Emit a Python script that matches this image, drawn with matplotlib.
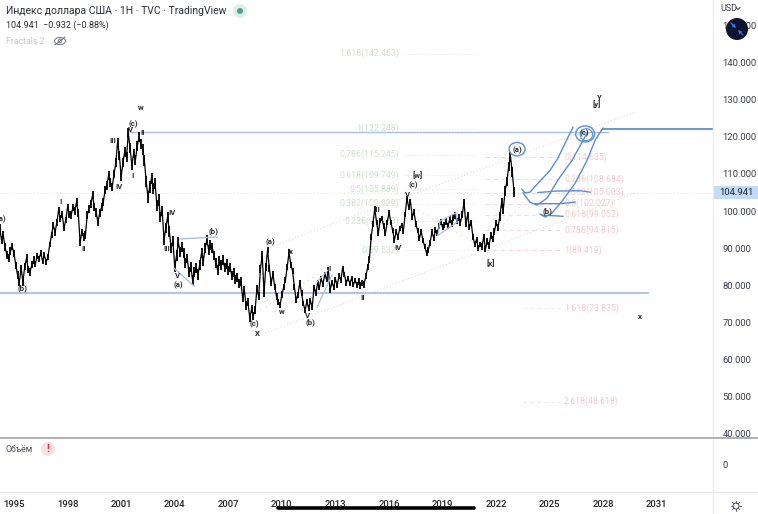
import numpy as np
import matplotlib
matplotlib.use("Agg")
import matplotlib.pyplot as plt
from matplotlib.patches import Ellipse, Circle, Rectangle

plt.rcParams['font.family'] = ['Roboto', 'DejaVu Sans']

# hourly close, one row per year, 0.1 year apart from 1994.2
price = [
    95.4, 92.2, 93.5, 90.3, 88.2, 87.3, 89.2, 90.4, 88.6, 85.4,
    82.8, 80.9, 84.6, 80.9, 85.0, 87.3, 84.2, 83.6, 85.6, 86.8,
    85.8, 88.0, 87.1, 88.7, 86.5, 88.1, 86.3, 87.6, 91.0, 93.6,
    96.2, 94.3, 97.0, 100.3, 98.0, 99.0, 95.4, 97.6, 101.1, 99.0,
    98.9, 101.0, 100.0, 102.4, 99.5, 91.6, 94.3, 93.0, 93.5, 99.0,
    100.5, 102.0, 104.3, 101.0, 99.6, 97.0, 99.5, 101.0, 102.4, 105.7,
    107.0, 109.7, 107.8, 106.5, 110.0, 113.0, 118.6, 115.0, 109.2, 113.0,
    116.0, 114.5, 121.0, 117.0, 112.4, 115.5, 113.8, 117.5, 119.9, 118.0,
    116.5, 113.7, 108.0, 103.8, 106.5, 108.9, 106.0, 107.4, 101.6, 103.0,
    98.4, 100.0, 92.2, 95.5, 98.4, 94.5, 90.0, 92.0, 84.9, 88.0,
    91.6, 89.0, 90.3, 88.7, 86.0, 87.2, 83.5, 85.0, 81.4, 83.5,
    84.6, 82.9, 85.5, 88.7, 86.5, 90.0, 92.2, 89.5, 90.8, 90.0,
    88.0, 86.0, 84.1, 86.5, 85.5, 86.8, 84.8, 85.8, 84.0, 84.8,
    82.6, 83.4, 81.6, 82.2, 80.6, 81.0, 76.8, 78.5, 74.5, 75.5,
    71.2, 73.5, 71.8, 73.3, 79.0, 77.0, 84.5, 88.1, 77.9, 85.0,
    89.5, 84.5, 80.6, 83.0, 79.5, 77.0, 75.5, 74.7, 77.5, 79.5,
    81.4, 85.0, 88.9, 85.5, 83.8, 79.5, 76.0, 77.5, 80.6, 78.0,
    75.0, 73.3, 75.6, 73.8, 75.8, 74.1, 79.5, 77.8, 80.6, 79.4,
    81.8, 80.3, 82.8, 81.6, 84.1, 78.7, 80.8, 79.5, 81.6, 80.0,
    82.5, 81.4, 84.6, 83.0, 80.6, 81.9, 80.5, 81.8, 80.2, 81.3,
    80.1, 81.0, 79.9, 80.6, 80.2, 82.5, 84.9, 87.0, 93.0, 96.5,
    100.8, 97.0, 94.1, 97.5, 98.1, 96.0, 94.1, 97.0, 99.7, 97.0,
    94.8, 92.2, 94.5, 93.0, 95.4, 96.2, 94.5, 99.0, 103.5, 101.0,
    102.5, 98.4, 99.8, 96.5, 94.8, 92.7, 94.6, 92.0, 90.5, 88.7,
    89.6, 91.5, 94.3, 92.8, 94.8, 94.0, 96.0, 97.0, 95.6, 96.3,
    97.2, 96.0, 97.8, 96.6, 98.2, 98.9, 97.3, 98.3, 97.0, 99.0,
    102.4, 96.5, 99.0, 95.7, 96.8, 93.0, 91.0, 92.3, 90.0, 91.0,
    90.4, 93.0, 89.8, 91.8, 90.8, 93.5, 92.5, 94.5, 96.8, 95.5,
    98.5, 102.2, 100.5, 105.5, 108.0, 112.0, 114.6, 110.5, 105.1,
]
years = 1994.2 + 0.1 * np.arange(len(price))

# thickness of the black price band, one reading per row of price
band = [2.0, 2.0, 1.6, 1.8, 2.0, 2.2, 2.4, 2.6, 3.0, 2.8, 2.6, 2.8, 2.6, 2.4, 2.2,
        1.8, 1.6, 1.4, 1.4, 1.4, 1.8, 1.4, 1.4, 1.4, 1.6, 1.8, 1.6, 1.8, 2.6]

last_price = 104.941

y_ticks = [40, 50, 60, 70, 80, 90, 100, 110, 120, 130, 140, 150]
x_ticks = [1995, 1998, 2001, 2004, 2007, 2010, 2013, 2016, 2019, 2022, 2025, 2028, 2031]

# fib retracements
green_names = ["1.618", "1", "0.786", "0.618", "0.5", "0.382", "0.236", "0"]
green_levels = [142.463, 122.248, 115.245, 109.749, 105.889, 102.029, 97.253, 89.532]
pink_names = ["0", "0.236", "0.382", "0.5", "0.618", "0.786", "1", "1.618", "2.618"]
pink_levels = [114.635, 108.684, 105.003, 102.027, 99.052, 94.815, 89.419, 73.835, 48.618]

# elliott wave labels
wave_text = ["w", "Y", "[y]", "(c)", "V", "II", "III", "IV", "I", "(a)", "I", "II", "(b)",
             "IV", "III", "V", "(a)", "(b)", "(a)", "x", "w", "(c)", "X", "V", "(b)", "I",
             "II", "III", "IV", "V", "(c)", "[w]", "[x]", "(a)", "(b)", "(c)", "x"]
wave_year = [2002.11, 2027.76, 2027.65, 2001.66, 2001.55, 2002.22, 2000.54, 2000.88, 2001.66,
             1994.27, 1997.63, 1998.92, 1995.50, 2003.85, 2003.57, 2004.18, 2004.18, 2006.14,
             2009.34, 2010.51, 2010.01, 2008.44, 2008.61, 2011.46, 2011.58, 2012.64, 2014.54,
             2015.33, 2016.50, 2017.06, 2017.34, 2017.62, 2021.71, 2023.17, 2024.85, 2026.92,
             2030.06]
wave_value = [128.0, 130.7, 128.8, 123.4, 121.9, 121.3, 119.1, 106.7, 109.7,
              97.8, 102.7, 89.8, 79.2, 99.5, 89.8, 82.7, 79.9, 94.6,
              91.6, 89.0, 72.8, 69.5, 67.1, 71.9, 70.0, 84.6, 76.6,
              100.5, 90.3, 104.6, 107.0, 109.7, 86.0, 116.4, 100.0, 121.0,
              71.7]

# hand drawn forecast
stroke1_x = [2023.44, 2023.61, 2023.89, 2024.34, 2025.02, 2025.46, 2025.86, 2026.30]
stroke1_y = [105.9, 104.9, 105.1, 107.5, 111.0, 114.3, 118.3, 122.6]
stroke2_x = [2023.50, 2023.89, 2024.29, 2024.85, 2025.46, 2026.25, 2026.87, 2027.09]
stroke2_y = [104.9, 102.4, 101.6, 103.5, 108.4, 113.7, 119.1, 121.0]
stroke3_x = [2024.46, 2024.74, 2025.13, 2025.74, 2026.42, 2027.09, 2027.54, 2027.98]
stroke3_y = [99.2, 98.4, 99.5, 103.0, 107.5, 113.7, 119.1, 122.4]
flat1_x = [2024.34, 2025.41, 2026.70, 2027.26]
flat1_y = [105.0, 105.4, 105.5, 105.1]
flat2_x = [2024.17, 2025.58, 2026.42]
flat2_y = [102.0, 102.0, 102.4]
flat3_x = [2024.57, 2025.74]
flat3_y = [98.9, 98.6]

BLUE = "#5b8fd4"
LEVEL = "#a9c0e2"
TEXT = "#3b3f4a"

fig = plt.figure(figsize=(7.58, 5.14), dpi=100)

ax = fig.add_axes([0, 77 / 514, 713 / 758, 437 / 514])
ax.patch.set_alpha(0)
ax.set_xlim(1994.216, 2034.14)
ax.set_ylim(39.1, 156.9)
for s in ax.spines.values():
    s.set_visible(False)
ax.yaxis.tick_right()
ax.set_yticks(y_ticks)
ax.set_yticklabels([f"{v}.000" for v in y_ticks], fontsize=6.8, color=TEXT)
ax.tick_params(axis='y', length=0, pad=7)
ax.set_xticks([])

# fib levels sit under the price
ax.hlines(green_levels, 2016.9, 2021.0, color="#dfeadf", lw=0.7, ls=(0, (1, 2)), zorder=1)
for name, lvl in zip(green_names, green_levels):
    ax.text(2016.56, lvl, f"{name}({lvl})", color="#cfe2cf", fontsize=6.3, ha='right', va='center', zorder=1)
ax.hlines(pink_levels[:7], 2021.4, 2025.6, color="#f6d9dc", lw=0.8, ls=(0, (4, 3)), zorder=1)
ax.hlines(pink_levels[7:], [2023.5, 2023.5], 2025.6, color="#f9e6e8", lw=0.7, ls=(0, (4, 3)), zorder=1)
for name, lvl in zip(pink_names, pink_levels):
    ax.text(2025.8, lvl, f"{name}({lvl})", color="#f3ccd0", fontsize=6.3, ha='left', va='center', zorder=1)

# channel
ax.plot([2009.17, 2029.78], [90.0, 126.7], color="#dcdcdc", lw=0.8, ls=(0, (1, 2)), zorder=1)
ax.plot([2009.06, 2029.78], [67.1, 104.9], color="#dcdcdc", lw=0.8, ls=(0, (1, 2)), zorder=1)
ax.plot([2008.78, 2012.69], [73.3, 84.9], color="#e4e4e4", lw=0.8, ls=(0, (2, 3)), zorder=1)
ax.plot([2017.57, 2021.26, 2023.50], [100.3, 90.3, 102.2], color="#f6dfe1", lw=0.8, ls=(0, (2, 3)), zorder=1)

# last price line
ax.axhline(last_price, color="#e6e6e6", lw=0.8, ls=(0, (1, 2)), zorder=1)

# drawn levels
ax.plot([2001.5, 2028.26], [121.3, 121.3], color=LEVEL, lw=1.0, zorder=2)
ax.plot([1994.2, 2030.5], [77.9, 77.9], color=LEVEL, lw=1.3, zorder=2)
ax.plot([2027.98, 2034.14], [122.1, 122.1], color=BLUE, lw=1.3, zorder=4)

# price: close line plus a high-low bar per step
rows = (np.arange(len(price)) // 10).astype(int)
half = np.array(band)[rows] / 2
price = np.array(price)
ax.plot(years, price, color="black", lw=0.9, zorder=3)
ax.vlines(years, price - half, price + half, color="black", lw=1.3, zorder=3)

# small drawn lines around the price
ax.plot([2003.96, 2005.08], [84.6, 79.8], color=LEVEL, lw=1.0, zorder=4)
ax.plot([2004.30, 2006.37], [92.5, 93.0], color=LEVEL, lw=1.0, zorder=4)
ax.plot([2011.97, 2012.58], [80.9, 84.1], color=LEVEL, lw=0.9, zorder=4)
ax.plot([2011.97, 2012.81], [74.1, 82.8], color=LEVEL, lw=0.9, zorder=4)
ax.plot([2018.74, 2019.81, 2019.75, 2018.85, 2018.74], [93.5, 97.0, 99.5, 97.3, 93.5], color=LEVEL, lw=0.9, zorder=4)

# forecast
for xs, ys in [(stroke1_x, stroke1_y), (stroke2_x, stroke2_y), (stroke3_x, stroke3_y),
               (flat1_x, flat1_y), (flat2_x, flat2_y), (flat3_x, flat3_y)]:
    ax.plot(xs, ys, color=BLUE, lw=1.0, zorder=4)
ax.add_patch(Ellipse((2023.17, 116.7), 0.9, 3.6, fill=False, ec=BLUE, lw=1.0, zorder=4))
ax.add_patch(Ellipse((2026.98, 120.8), 1.06, 4.3, fill=False, ec=BLUE, lw=1.0, zorder=4))
ax.add_patch(Ellipse((2027.05, 120.6), 0.7, 3.2, fill=False, ec=BLUE, lw=0.8, zorder=4))

for t, x, y in zip(wave_text, wave_year, wave_value):
    ax.text(x, y, t, fontsize=5.6, color="#2a2a2a", fontweight='bold', ha='center', va='center', zorder=5)

# volume pane carries the year axis
vol = fig.add_axes([0, 22 / 514, 713 / 758, 55 / 514])
vol.patch.set_alpha(0)
vol.set_xlim(ax.get_xlim())
vol.set_ylim(-1, 1)
for s in vol.spines.values():
    s.set_visible(False)
vol.set_xticks(x_ticks)
vol.set_xticklabels([str(y) for y in x_ticks], fontsize=6.8, fontweight='medium', color="#222222")
vol.tick_params(axis='x', length=0, pad=5.5)
vol.yaxis.tick_right()
vol.set_yticks([0])
vol.set_yticklabels(["0"], fontsize=6.8, color=TEXT)
vol.tick_params(axis='y', length=0, pad=7)

# top layer: header, tags, buttons, in pixels
top = fig.add_axes([0, 0, 1, 1])
top.patch.set_alpha(0)
top.set_xlim(0, 758)
top.set_ylim(514, 0)
top.axis('off')

top.plot([713, 713], [0, 514], color="#eceef1", lw=1.0)
top.plot([0, 758], [437.5, 437.5], color="#a8a8a8", lw=1.3)
top.plot([0, 758], [492, 492], color="#e6e8eb", lw=1.0)

top.text(6, 11, "Индекс доллара США · 1H · TVC · TradingView", fontsize=7.5, color="#2a2e39", va='center')
top.text(6, 25, "104.941  −0.932 (−0.88%)", fontsize=6.5, color="#2a2e39", va='center')
top.text(6, 41, "Fractals 2", fontsize=6.3, color="#c4c7cc", va='center')
top.add_patch(Circle((240, 11), 7, color="#dcefe9", lw=0))
top.add_patch(Circle((240, 11), 3, color="#4f9e8b", lw=0))
top.add_patch(Ellipse((60, 41), 11, 7, fill=False, ec="#6b6f78", lw=0.7))
top.add_patch(Circle((60, 41), 1.8, fill=False, ec="#6b6f78", lw=0.6))
top.plot([55, 65], [45, 37], color="#6b6f78", lw=0.7)

top.text(720, 8.5, "USD", fontsize=6.5, color=TEXT, va='center')
top.plot([736, 738, 740], [7.5, 9.5, 7.5], color=TEXT, lw=0.7)

# expand button over the top tick label
top.add_patch(Circle((737, 29), 11, color="#0d1430", lw=0, zorder=6))
arrow = dict(arrowstyle="-|>", color="#3f6fe0", lw=0.9, shrinkA=0, shrinkB=0, mutation_scale=4)
top.annotate("", xy=(736, 28), xytext=(731, 23), arrowprops=arrow, zorder=7)
top.annotate("", xy=(738, 30), xytext=(743, 35), arrowprops=arrow, zorder=7)

# last price tag
top.add_patch(Rectangle((714, 186), 44, 13, color="#c3daf8", lw=0))
top.text(736, 192.5, "104.941", fontsize=6.8, color="#1f2430", ha='center', va='center')

# volume header
top.text(5, 449, "Объём", fontsize=6.3, color="#4a4e58", va='center')
top.add_patch(Circle((48, 449), 7, color="#f9e1e3", lw=0))
top.text(48, 449, "!", fontsize=8, color="#d8333f", fontweight='bold', ha='center', va='center')

# scroll bar over the years
top.plot([278, 474], [507.5, 507.5], color="black", lw=2.6, solid_capstyle='round')

# settings icon
top.add_patch(Circle((736, 506), 3, fill=False, ec="#4a4e58", lw=0.7))
for a in np.deg2rad(np.arange(0, 360, 45)):
    top.plot([736 + 3 * np.cos(a), 736 + 5 * np.cos(a)], [506 + 3 * np.sin(a), 506 + 5 * np.sin(a)], color="#4a4e58", lw=0.6)

fig.savefig("out.png", dpi=100, facecolor="white")
